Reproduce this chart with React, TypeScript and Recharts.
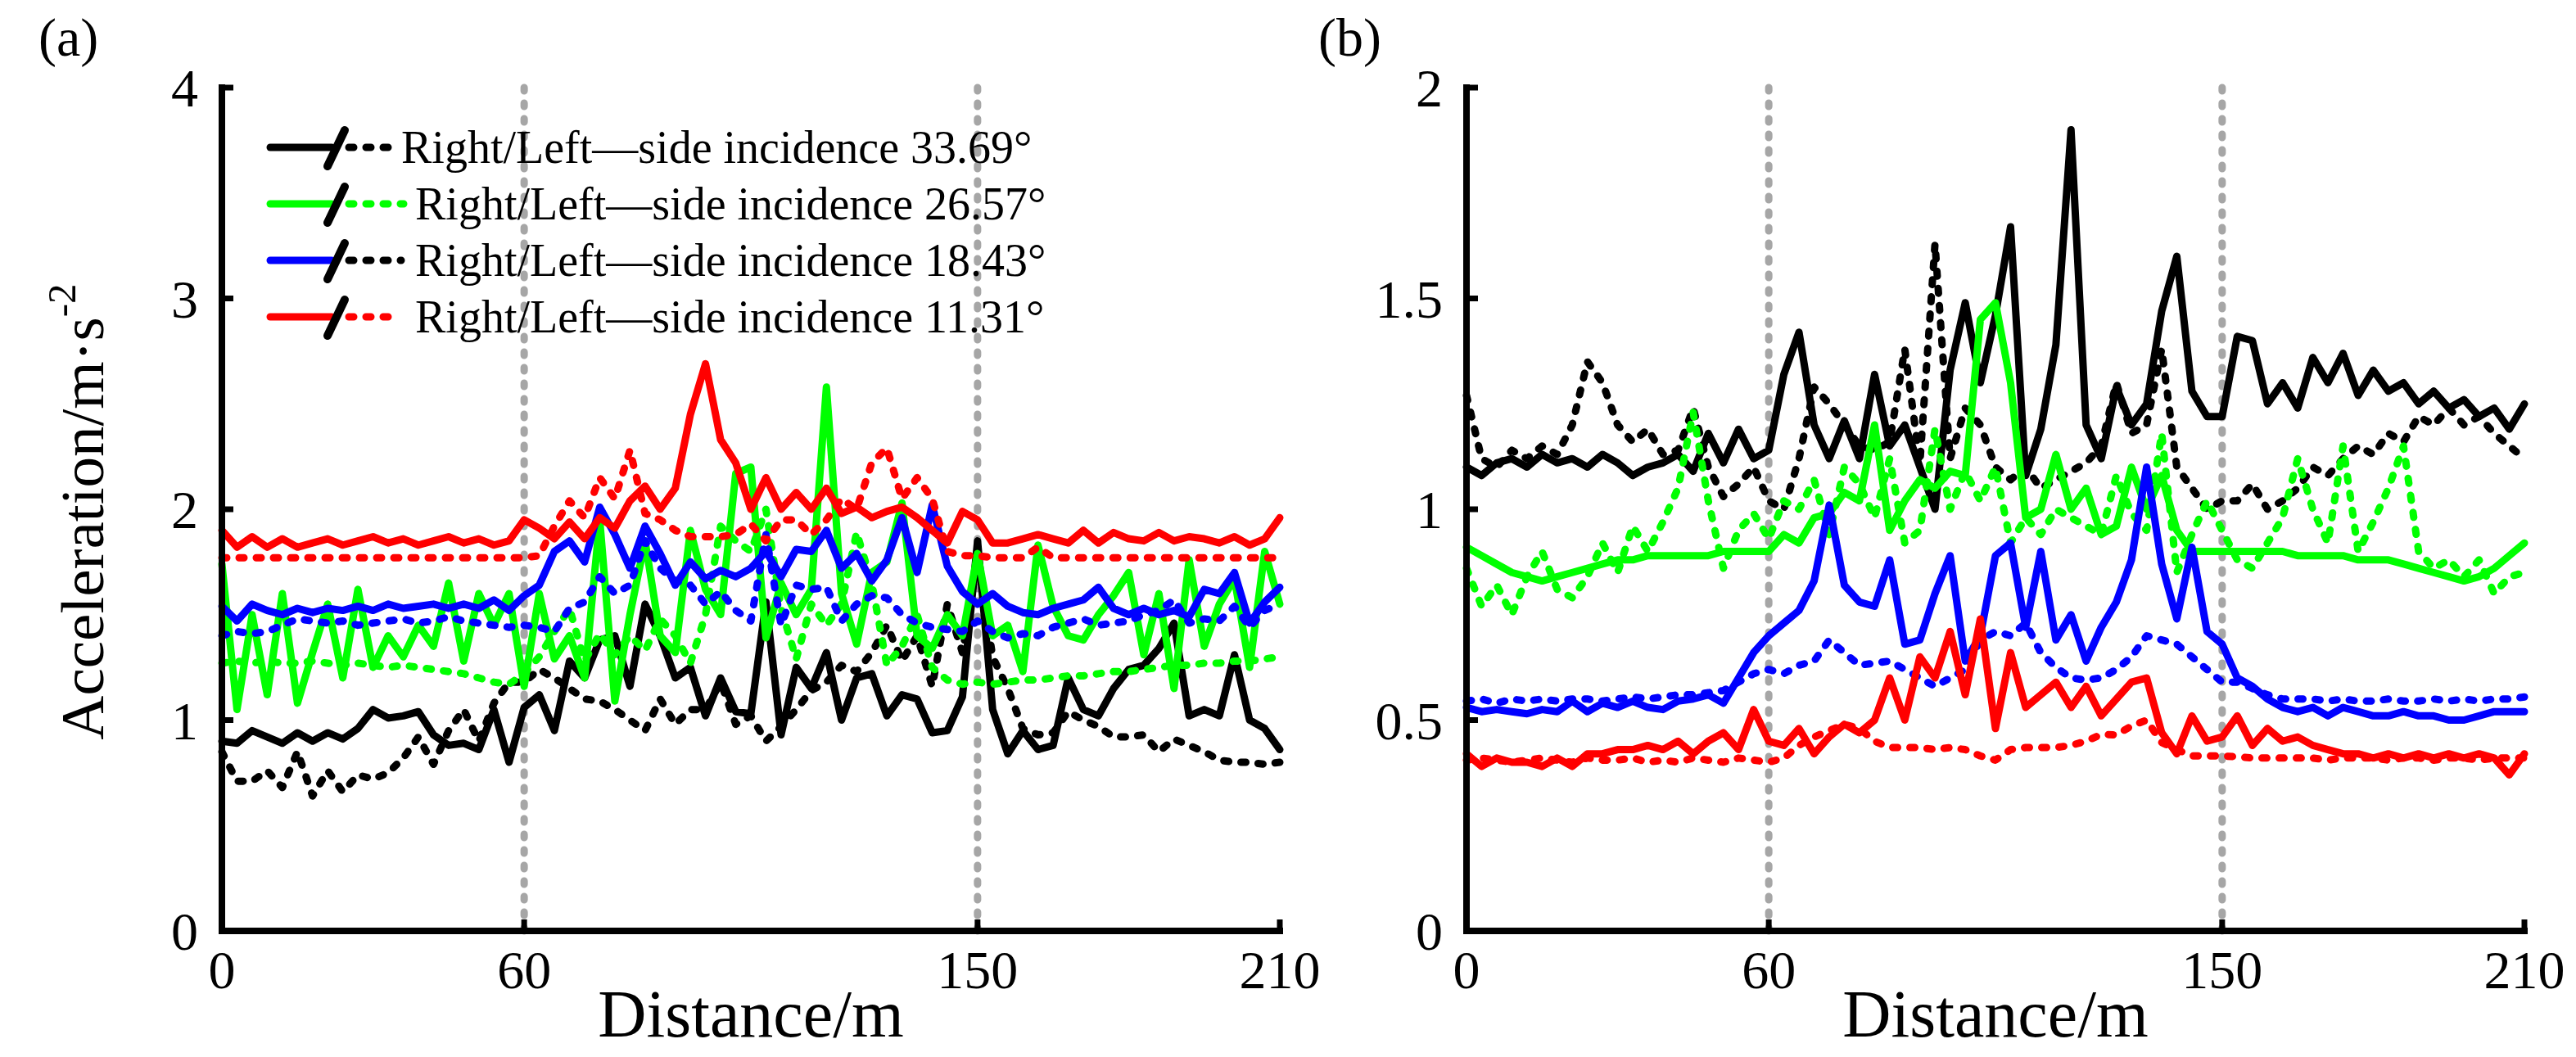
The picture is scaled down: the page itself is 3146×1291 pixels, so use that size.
import React from "react";
import { LineChart, Line, XAxis, YAxis, ReferenceLine, Legend } from "recharts";

// distance along the tunnel (m)
const distance = [
  0, 3, 6, 9, 12, 15, 18, 21, 24, 27,
  30, 33, 36, 39, 42, 45, 48, 51, 54, 57,
  60, 63, 66, 69, 72, 75, 78, 81, 84, 87,
  90, 93, 96, 99, 102, 105, 108, 111, 114, 117,
  120, 123, 126, 129, 132, 135, 138, 141, 144, 147,
  150, 153, 156, 159, 162, 165, 168, 171, 174, 177,
  180, 183, 186, 189, 192, 195, 198, 201, 204, 207,
  210,
];

// ---- panel (a) ----
const aBlackR = [
  0.9, 0.89, 0.95, 0.92, 0.89, 0.94, 0.9, 0.94, 0.91, 0.96,
  1.05, 1.01, 1.02, 1.04, 0.93, 0.88, 0.89, 0.86, 1.05, 0.8,
  1.06, 1.12, 0.95, 1.28, 1.2, 1.38, 1.4, 1.16, 1.55, 1.4,
  1.2, 1.25, 1.02, 1.2, 1.04, 1.03, 1.56, 0.93, 1.25, 1.15,
  1.32, 1.0, 1.2, 1.22, 1.02, 1.12, 1.1, 0.94, 0.95, 1.11,
  1.85, 1.05, 0.84, 0.95, 0.86, 0.88, 1.2, 1.05, 1.02, 1.15,
  1.24, 1.26, 1.34, 1.46, 1.02, 1.05, 1.02, 1.31, 1.0, 0.96,
  0.86,
];
const aBlackL = [
  0.85, 0.71, 0.71, 0.76, 0.68, 0.85, 0.64, 0.76, 0.66, 0.74,
  0.72, 0.75, 0.82, 0.92, 0.79, 0.95, 1.05, 0.9, 1.08, 1.18,
  1.18, 1.24, 1.2, 1.15, 1.1, 1.09, 1.05, 1.0, 0.95, 1.1,
  0.98, 1.05, 1.05, 1.18, 0.98, 1.02, 0.9, 0.97, 1.05, 1.14,
  1.18, 1.26, 1.23, 1.32, 1.45, 1.28, 1.4, 1.16, 1.55, 1.32,
  1.77, 1.3, 1.15, 0.96, 0.93, 0.94, 1.04, 1.0, 0.97, 0.92,
  0.92, 0.93, 0.85, 0.91, 0.88, 0.85, 0.81, 0.8, 0.8, 0.79,
  0.8,
];
const aGreenR = [
  1.74, 1.05, 1.5, 1.12, 1.6, 1.08, 1.32, 1.55, 1.2, 1.62,
  1.25, 1.4, 1.3, 1.45, 1.35, 1.65, 1.28, 1.6, 1.45, 1.6,
  1.16, 1.6, 1.29, 1.4, 1.2, 1.95, 1.09, 1.5, 1.85, 1.4,
  1.32, 1.9, 1.62, 1.5, 2.17, 2.2, 1.39, 1.65, 1.5, 1.62,
  2.58, 1.6, 1.36, 1.7, 1.75, 2.03, 1.4, 1.34, 1.5, 1.4,
  1.79, 1.4, 1.45, 1.23, 1.83, 1.54, 1.4, 1.38, 1.5, 1.59,
  1.7, 1.31, 1.6, 1.15, 1.76, 1.35, 1.55, 1.67, 1.25, 1.8,
  1.55,
];
const aGreenL = [
  1.27, 1.28, 1.27, 1.28, 1.27, 1.27, 1.28, 1.27, 1.26, 1.27,
  1.26, 1.25, 1.26, 1.25, 1.24, 1.23, 1.22, 1.2, 1.18, 1.17,
  1.22, 1.3, 1.42, 1.53, 1.28, 1.41, 1.31, 1.4, 1.33, 1.48,
  1.4, 1.27, 1.5, 1.92, 1.85, 1.8, 2.0, 1.53, 1.29, 1.55,
  1.45, 1.55, 1.89, 1.65, 1.26, 1.35, 1.5, 1.25, 1.19, 1.17,
  1.18, 1.17, 1.18, 1.19, 1.19, 1.2, 1.21, 1.21, 1.22, 1.23,
  1.23, 1.24, 1.25, 1.26, 1.26, 1.27, 1.27, 1.28, 1.28, 1.29,
  1.3,
];
const aBlueR = [
  1.54, 1.47, 1.55, 1.52, 1.5, 1.53, 1.51, 1.53, 1.52, 1.54,
  1.52, 1.55, 1.53, 1.54, 1.55, 1.53, 1.55, 1.53, 1.57, 1.52,
  1.59, 1.64, 1.8, 1.85, 1.75, 2.01, 1.88, 1.72, 1.92, 1.79,
  1.64, 1.75, 1.67, 1.71, 1.68, 1.72, 1.8, 1.68, 1.81, 1.8,
  1.9, 1.72, 1.79, 1.66, 1.76, 1.96, 1.7, 2.02, 1.73, 1.61,
  1.55, 1.6, 1.54, 1.51, 1.5, 1.53, 1.55, 1.57, 1.63, 1.53,
  1.5, 1.53, 1.5, 1.52, 1.49, 1.62, 1.6, 1.7, 1.46, 1.56,
  1.63,
];
const aBlueL = [
  1.4, 1.42, 1.41, 1.42, 1.45, 1.48, 1.47, 1.46, 1.47, 1.45,
  1.46, 1.47, 1.48, 1.46, 1.47, 1.49, 1.47, 1.46, 1.45, 1.44,
  1.45, 1.44, 1.42, 1.53, 1.56, 1.68, 1.6, 1.64, 1.85, 1.72,
  1.66, 1.64, 1.55, 1.61, 1.52, 1.47, 1.88, 1.45, 1.64, 1.62,
  1.63, 1.47, 1.55, 1.59, 1.58, 1.5, 1.46, 1.44, 1.43, 1.42,
  1.47, 1.42, 1.39, 1.41, 1.4, 1.44, 1.46, 1.48, 1.45, 1.46,
  1.47, 1.5, 1.52, 1.57, 1.46, 1.48, 1.47, 1.54, 1.44, 1.52,
  1.55,
];
const aRedR = [
  1.9, 1.82, 1.87, 1.82, 1.86, 1.82, 1.84, 1.86, 1.83, 1.85,
  1.87, 1.84, 1.86, 1.83, 1.85, 1.87, 1.84, 1.86, 1.83, 1.85,
  1.95, 1.91, 1.86, 1.94, 1.86, 1.96, 1.91, 2.04, 2.11, 2.0,
  2.1, 2.45, 2.69, 2.33, 2.22, 2.0, 2.15, 2.0, 2.08, 2.0,
  2.1, 1.98, 2.01, 1.96, 1.99, 2.01, 1.96, 1.9, 1.84, 1.99,
  1.95, 1.84, 1.84, 1.86, 1.88, 1.86, 1.84, 1.9, 1.84, 1.89,
  1.86, 1.85, 1.89, 1.85, 1.87, 1.86, 1.84, 1.87, 1.83, 1.86,
  1.96,
];
const aRedL = [
  1.77, 1.77, 1.77, 1.77, 1.77, 1.77, 1.77, 1.77, 1.77, 1.77,
  1.77, 1.77, 1.77, 1.77, 1.77, 1.77, 1.77, 1.77, 1.77, 1.77,
  1.77, 1.78, 1.92, 2.04, 1.96, 2.15, 2.05, 2.28, 1.98, 1.95,
  1.9, 1.87, 1.87, 1.87, 1.88, 1.93, 1.85, 1.95, 1.95, 1.88,
  1.95, 2.05, 2.0, 2.22, 2.29, 2.05, 2.15, 2.05, 1.8, 1.78,
  1.78, 1.77, 1.77, 1.77, 1.82, 1.77, 1.77, 1.77, 1.77, 1.77,
  1.77, 1.77, 1.77, 1.77, 1.77, 1.77, 1.77, 1.77, 1.77, 1.77,
  1.77,
];

// ---- panel (b) ----
const bBlackR = [
  1.1, 1.08, 1.11, 1.12, 1.1, 1.13, 1.11, 1.12, 1.1, 1.13,
  1.11, 1.08, 1.1, 1.11, 1.13, 1.09, 1.18, 1.11, 1.19, 1.12,
  1.14, 1.32, 1.42, 1.2, 1.12, 1.21, 1.12, 1.32, 1.15, 1.2,
  1.1, 1.0, 1.33, 1.49, 1.3, 1.46, 1.67, 1.08, 1.19, 1.39,
  1.9, 1.2, 1.12, 1.29, 1.2, 1.25, 1.47, 1.6, 1.28, 1.22,
  1.22, 1.41, 1.4, 1.25, 1.3, 1.24, 1.36, 1.3, 1.37, 1.27,
  1.33, 1.28, 1.3, 1.25, 1.28, 1.24, 1.26, 1.22, 1.24, 1.19,
  1.25,
];
const bBlackL = [
  1.27, 1.12, 1.1, 1.14, 1.12, 1.15, 1.13, 1.2, 1.35, 1.3,
  1.2, 1.16, 1.19, 1.13, 1.14, 1.24, 1.1, 1.03, 1.06, 1.1,
  1.02, 1.0, 1.12, 1.29, 1.25, 1.2, 1.15, 1.14, 1.16, 1.38,
  1.11, 1.63, 1.12, 1.24, 1.2, 1.1, 1.07, 1.1, 1.05, 1.07,
  1.09, 1.11, 1.15, 1.3, 1.18, 1.2, 1.38, 1.1, 1.05, 1.0,
  1.02, 1.02, 1.06, 1.0, 1.02, 1.05, 1.1, 1.08, 1.12, 1.15,
  1.13, 1.18, 1.16, 1.22, 1.2, 1.24, 1.2, 1.22, 1.18, 1.15,
  1.12,
];
const bGreenR = [
  0.91, 0.89, 0.87, 0.85, 0.84, 0.83, 0.84, 0.85, 0.86, 0.87,
  0.88, 0.88, 0.89, 0.89, 0.89, 0.89, 0.89, 0.9, 0.9, 0.9,
  0.9, 0.94, 0.92, 0.98, 0.99, 1.04, 1.02, 1.2, 0.95, 1.02,
  1.07, 1.05, 1.09, 1.08, 1.45, 1.49, 1.3, 0.98, 1.0, 1.13,
  1.0, 1.05, 0.94, 0.96, 1.1, 1.0, 1.08, 0.95, 0.9, 0.9,
  0.9, 0.9, 0.9, 0.9, 0.9, 0.89, 0.89, 0.89, 0.89, 0.88,
  0.88, 0.88, 0.87, 0.86, 0.85, 0.84, 0.83, 0.84, 0.86, 0.89,
  0.92,
];
const bGreenL = [
  0.86, 0.77, 0.82, 0.75, 0.84, 0.9, 0.81, 0.79, 0.84, 0.92,
  0.85, 0.96, 0.9, 0.97, 1.05, 1.23, 1.02, 0.86, 0.95, 0.99,
  0.93, 1.02, 1.0, 1.07, 0.94, 1.1, 1.06, 0.98, 1.12, 0.92,
  0.95, 1.19, 1.0, 1.09, 1.02, 1.1, 0.92, 0.98, 0.94, 1.0,
  0.98, 0.96, 0.94, 1.08, 0.99, 0.95, 1.18, 0.85, 0.94, 1.02,
  0.95, 0.88, 0.86, 0.92, 0.98, 1.12, 1.0, 0.92, 1.15, 0.9,
  0.97, 1.05, 1.15, 0.9, 0.86, 0.88, 0.84, 0.88, 0.8, 0.84,
  0.85,
];
const bBlueR = [
  0.53, 0.52, 0.525, 0.52, 0.515, 0.525, 0.52, 0.545, 0.52, 0.54,
  0.53, 0.545, 0.53, 0.525, 0.545, 0.55, 0.56, 0.54, 0.6, 0.66,
  0.7, 0.73, 0.76, 0.83, 1.01, 0.82, 0.78, 0.77, 0.88, 0.68,
  0.69, 0.8, 0.89, 0.64, 0.7, 0.89, 0.92, 0.72, 0.9, 0.69,
  0.75, 0.64, 0.72, 0.78, 0.88, 1.1, 0.87, 0.74, 0.91, 0.71,
  0.68, 0.6, 0.58, 0.55, 0.53, 0.52, 0.53, 0.51, 0.53, 0.52,
  0.51, 0.51, 0.52, 0.51, 0.51, 0.5, 0.5, 0.51, 0.52, 0.52,
  0.52,
];
const bBlueL = [
  0.545, 0.55, 0.54, 0.55, 0.545, 0.55, 0.545, 0.55, 0.55, 0.545,
  0.55, 0.555, 0.55, 0.555, 0.56, 0.56, 0.565, 0.57, 0.59, 0.61,
  0.62, 0.61, 0.63, 0.64, 0.69, 0.66, 0.63, 0.635, 0.64, 0.62,
  0.6, 0.58, 0.6, 0.62, 0.69, 0.71, 0.7, 0.73, 0.66, 0.625,
  0.6, 0.595, 0.6, 0.62, 0.65, 0.7, 0.69, 0.68, 0.65, 0.62,
  0.59, 0.59, 0.575, 0.56, 0.55, 0.55, 0.55, 0.545, 0.55, 0.545,
  0.545, 0.55, 0.545, 0.545, 0.55, 0.545, 0.55, 0.545, 0.55, 0.55,
  0.555,
];
const bRedR = [
  0.42, 0.39, 0.41, 0.4, 0.4, 0.39, 0.41, 0.39, 0.42, 0.42,
  0.43, 0.43, 0.44, 0.43, 0.45, 0.42, 0.45, 0.47, 0.43, 0.525,
  0.45, 0.44, 0.48, 0.42, 0.46, 0.49, 0.47, 0.5, 0.6, 0.5,
  0.65, 0.6, 0.71, 0.56, 0.74, 0.48, 0.66, 0.53, 0.56, 0.59,
  0.53, 0.58, 0.51, 0.55, 0.59, 0.6, 0.47, 0.42, 0.51, 0.45,
  0.46, 0.51, 0.44, 0.48, 0.45, 0.46, 0.44, 0.43, 0.42, 0.42,
  0.41, 0.42, 0.41, 0.42, 0.41, 0.42, 0.41, 0.42, 0.41, 0.37,
  0.42,
];
const bRedL = [
  0.405, 0.41, 0.405, 0.4, 0.405, 0.41, 0.405, 0.4, 0.41, 0.405,
  0.405, 0.41, 0.4, 0.405, 0.4, 0.41, 0.405, 0.4, 0.41, 0.405,
  0.4, 0.41, 0.44, 0.46, 0.475, 0.49, 0.48, 0.45, 0.435, 0.435,
  0.435, 0.43, 0.435, 0.43, 0.415, 0.405, 0.43, 0.435, 0.435, 0.435,
  0.44, 0.45, 0.466, 0.465, 0.486, 0.5, 0.447, 0.43, 0.415, 0.415,
  0.415, 0.413, 0.41, 0.41, 0.41, 0.41, 0.41, 0.405, 0.41, 0.41,
  0.41, 0.405, 0.41, 0.41, 0.405, 0.41, 0.41, 0.405, 0.41, 0.41,
  0.41,
];

const xTicks = [0, 60, 150, 210];
const aTicks = [0, 1, 2, 3, 4];
const bTicks = [0, 0.5, 1, 1.5, 2];
const boundaries = [60, 150];

const legendLabels = [
  "Right/Left\u2014side incidence 33.69\u00b0",
  "Right/Left\u2014side incidence 26.57\u00b0",
  "Right/Left\u2014side incidence 18.43\u00b0",
  "Right/Left\u2014side incidence 11.31\u00b0",
];

const font = '"Liberation Serif", "Times New Roman", serif';
const LW = 9; // series line width
const DASH = "6 15";

const toRows = (s: Record<string, number[]>) =>
  distance.map((x, i) => {
    const row: Record<string, number> = { x };
    Object.keys(s).forEach((k) => (row[k] = s[k][i]));
    return row;
  });

const rowsA = toRows({
  blackR: aBlackR, blackL: aBlackL, greenR: aGreenR, greenL: aGreenL,
  blueR: aBlueR, blueL: aBlueL, redR: aRedR, redL: aRedL,
});
const rowsB = toRows({
  blackR: bBlackR, blackL: bBlackL, greenR: bGreenR, greenL: bGreenL,
  blueR: bBlueR, blueL: bBlueL, redR: bRedR, redL: bRedL,
});

// draw order: dashed under solid, black at the bottom
const series = [
  { key: "blackL", color: "#000000", dashed: true },
  { key: "blackR", color: "#000000", dashed: false },
  { key: "greenL", color: "#00ff00", dashed: true },
  { key: "greenR", color: "#00ff00", dashed: false },
  { key: "blueL", color: "#0000ff", dashed: true },
  { key: "blueR", color: "#0000ff", dashed: false },
  { key: "redL", color: "#ff0000", dashed: true },
  { key: "redR", color: "#ff0000", dashed: false },
];

const legendRows = [
  { solid: "#000000", dashed: "#000000", textX: 190, dashEnd: 175 },
  { solid: "#00ff00", dashed: "#00ff00", textX: 207, dashEnd: 193 },
  { solid: "#0000ff", dashed: "#000000", textX: 207, dashEnd: 190 },
  { solid: "#ff0000", dashed: "#ff0000", textX: 207, dashEnd: 187 },
];

const renderLegend = () => (
  <svg width={1000} height={290} style={{ overflow: "visible" }}>
    {legendRows.map((r, i) => {
      const y = 40 + i * 69;
      return (
        <g key={i}>
          <line x1={30} y1={y} x2={105} y2={y} stroke={r.solid} strokeWidth={LW} strokeLinecap="round" />
          <line x1={126} y1={y} x2={r.dashEnd} y2={y} stroke={r.dashed} strokeWidth={LW}
            strokeDasharray={DASH} strokeLinecap="round" />
          <line x1={121} y1={y - 21} x2={100} y2={y + 23} stroke="#000" strokeWidth={10} strokeLinecap="round" />
          <text x={r.textX} y={y + 19} fontSize={56} fontFamily={font} fill="#000">
            {legendLabels[i]}
          </text>
        </g>
      );
    })}
  </svg>
);

const axisLine = { stroke: "#000", strokeWidth: 8, strokeLinecap: "square" as const };
const tickLine = { stroke: "#000", strokeWidth: 7 };
const tickStyle = { fontSize: 66, fontFamily: font, fill: "#000" };

type PanelProps = {
  rows: Record<string, number>[];
  width: number;
  yWidth: number;
  right: number;
  yMax: number;
  yTicks: number[];
  letter: string;
  letterX: number;
  yTitle: boolean;
  legend: boolean;
};

const Panel = ({ rows, width, yWidth, right, yMax, yTicks, letter, letterX, yTitle, legend }: PanelProps) => {
  const plotMid = yWidth + (width - yWidth - right) / 2;
  return (
    <LineChart width={width} height={1291} data={rows} margin={{ top: 107, right, bottom: 0, left: 0 }}>
      <XAxis
        dataKey="x" type="number" domain={[0, 210]} ticks={xTicks} interval={0}
        height={154} axisLine={axisLine} tickLine={tickLine} tickSize={-14} tickMargin={37}
        tick={tickStyle}
        label={() => (
          <text x={plotMid} y={1266} textAnchor="middle" fontSize={82} fontFamily={font} fill="#000">
            Distance/m
          </text>
        )}
      />
      <XAxis xAxisId="top" orientation="top" dataKey="x" type="number" domain={[0, 210]}
        height={0} tick={false} tickLine={false} axisLine={axisLine} />
      <YAxis
        domain={[0, yMax]} ticks={yTicks} interval={0} width={yWidth}
        axisLine={axisLine} tickLine={tickLine} tickSize={-14} tickMargin={43} tick={tickStyle}
        label={() => (
          <g>
            <text x={letterX} y={68} fontSize={66} fontFamily={font} fill="#000">{letter}</text>
            {yTitle && (
              <text x={100} y={625} transform="rotate(-90 100 625)" textAnchor="middle"
                dominantBaseline="central" fontSize={75} fontFamily={font} fill="#000">
                Acceleration/m·s<tspan dy={-25} fontSize={49}>-2</tspan>
              </text>
            )}
          </g>
        )}
      />
      <YAxis yAxisId="r" orientation="right" domain={[0, yMax]} ticks={yTicks} interval={0}
        width={0} tick={false} axisLine={axisLine} tickLine={tickLine} tickSize={-14} />
      {boundaries.map((b) => (
        <ReferenceLine key={b} x={b} stroke="#a6a6a6" strokeWidth={9}
          strokeDasharray="4 15" strokeLinecap="round" />
      ))}
      {series.map((s) => (
        <Line
          key={s.key} type="linear" dataKey={s.key} stroke={s.color} strokeWidth={LW}
          strokeDasharray={s.dashed ? DASH : undefined}
          strokeLinecap="round" strokeLinejoin="round"
          dot={false} activeDot={false} isAnimationActive={false}
        />
      ))}
      {legend && (
        <Legend
          layout="vertical" align="center" verticalAlign="middle" content={renderLegend}
          wrapperStyle={{ left: 300, top: 140, width: 1000, height: 290 }}
        />
      )}
    </LineChart>
  );
};

export default function App() {
  return (
    <div style={{ position: "relative", width: 3146, height: 1291, background: "#fff" }}>
      <style>{"body{margin:0;}"}</style>
      <div style={{ position: "absolute", left: 0, top: 0 }}>
        <Panel rows={rowsA} width={1700} yWidth={271} right={137} yMax={4} yTicks={aTicks}
          letter="(a)" letterX={47} yTitle legend />
      </div>
      <div style={{ position: "absolute", left: 1600, top: 0 }}>
        <Panel rows={rowsB} width={1546} yWidth={191} right={63} yMax={2} yTicks={bTicks}
          letter="(b)" letterX={10} yTitle={false} legend={false} />
      </div>
    </div>
  );
}
